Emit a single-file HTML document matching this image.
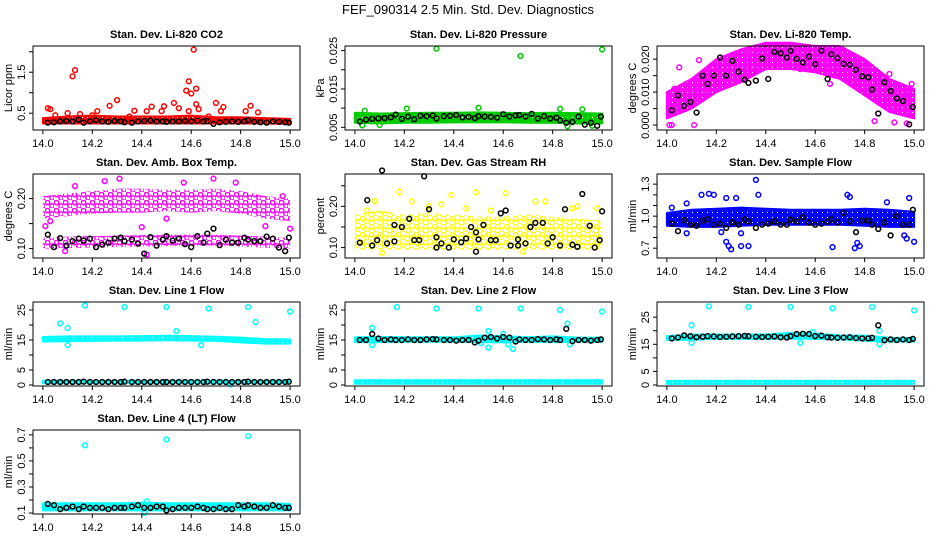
<!DOCTYPE html>
<html><head><meta charset="utf-8"><style>
html,body{margin:0;padding:0;background:#fff;}
svg{display:block;font-family:"Liberation Sans",sans-serif;}
</style></head><body>
<svg id="chart" width="936" height="540" viewBox="0 0 936 540">
<defs id="defs"></defs>
<text x="468" y="14" text-anchor="middle" font-size="13">FEF_090314  2.5 Min. Std. Dev. Diagnostics</text>
</svg>
<script>
// shared x data
const bandTimes = [14.0,14.1,14.2,14.3,14.4,14.5,14.6,14.7,14.8,14.9,15.0];
const blackTimes = [14.02,14.045,14.07,14.095,14.12,14.145,14.165,14.19,14.215,14.24,14.265,14.29,14.315,14.33,14.36,14.385,14.41,14.435,14.46,14.485,14.5,14.525,14.55,14.575,14.6,14.625,14.65,14.665,14.69,14.715,14.74,14.765,14.79,14.815,14.83,14.855,14.88,14.905,14.93,14.955,14.98,14.995];
const xTicks = [14.0,14.2,14.4,14.6,14.8,15.0];

// Panel 1: CO2
const co2BandLo = [0.25,0.25,0.25,0.25,0.25,0.25,0.25,0.25,0.25,0.25,0.24];
const co2BandHi = [0.38,0.42,0.44,0.42,0.42,0.42,0.44,0.40,0.40,0.38,0.36];
const co2PtX = [14.02,14.03,14.05,14.1,14.12,14.13,14.15,14.22,14.27,14.3,14.37,14.42,14.44,14.48,14.49,14.53,14.55,14.58,14.59,14.6,14.61,14.62,14.62,14.63,14.59,14.7,14.72,14.73,14.82,14.84,14.87,14.2,14.35,14.67];
const co2PtY = [0.62,0.6,0.45,0.5,1.4,1.55,0.48,0.55,0.68,0.82,0.56,0.55,0.66,0.55,0.67,0.75,0.62,1.05,1.28,0.98,2.05,1.1,0.72,0.6,0.55,0.75,0.55,0.65,0.55,0.68,0.52,0.45,0.42,0.42];
const co2Black = [0.27,0.28,0.3,0.31,0.3,0.34,0.27,0.3,0.33,0.3,0.29,0.31,0.3,0.28,0.27,0.3,0.31,0.32,0.3,0.3,0.29,0.3,0.3,0.31,0.3,0.32,0.3,0.31,0.24,0.28,0.29,0.3,0.29,0.3,0.33,0.29,0.28,0.27,0.3,0.29,0.28,0.27];

// Panel 2: Pressure
const presBandLo = [0.0062,0.0060,0.0062,0.0062,0.0063,0.0063,0.0063,0.0062,0.0062,0.0060,0.0060];
const presBandHi = [0.0088,0.0086,0.0087,0.0088,0.0088,0.0089,0.0088,0.0087,0.0088,0.0087,0.0086];
const presPtX = [14.33,14.67,15.0,14.5,14.21,14.83,14.92,14.03,14.86,14.04,14.1,14.96];
const presPtY = [0.0255,0.0236,0.0253,0.0101,0.0099,0.0098,0.0097,0.0055,0.0053,0.0093,0.0056,0.0054];
const presBlack = [0.0065,0.007,0.0072,0.0073,0.0074,0.0076,0.0083,0.0072,0.0078,0.0071,0.008,0.0079,0.0081,0.0073,0.0079,0.008,0.0082,0.0076,0.0077,0.0074,0.0079,0.0078,0.0077,0.0075,0.0084,0.0078,0.0081,0.0082,0.0078,0.0085,0.0073,0.0079,0.0073,0.0075,0.0068,0.0062,0.0064,0.0078,0.0057,0.0062,0.0054,0.0078];

// Panel 3: Li-820 Temp
const tempBandLo = [0.002,0.005,0.010,0.013,0.017,0.017,0.016,0.014,0.009,0.004,0.002];
const tempBandHi = [0.010,0.014,0.020,0.023,0.025,0.025,0.024,0.024,0.020,0.014,0.011];
const tempPtX = [14.01,14.02,14.11,14.05,14.13,14.97,14.99,14.96,14.54,14.66,14.84,14.92,14.03,14.9];
const tempPtY = [0,0,0,0.0175,0.0197,0.0005,0.0125,0.0085,0.017,0.0125,0.0012,0.0008,0.011,0.0155];
const tempBlack = [0.0045,0.009,0.0058,0.007,0.0038,0.015,0.0125,0.015,0.0205,0.015,0.0195,0.0162,0.0138,0.0128,0.0135,0.0202,0.014,0.0222,0.0218,0.0205,0.0225,0.0201,0.019,0.0208,0.0185,0.0226,0.014,0.0215,0.0203,0.0186,0.0183,0.0168,0.0148,0.0145,0.0108,0.0035,0.013,0.0103,0.0081,0.0073,0.0002,0.0055];

// Panel 4: Amb Box Temp
const ambBandLo = [0.16,0.165,0.17,0.172,0.172,0.175,0.172,0.175,0.17,0.16,0.155];
const ambBandHi = [0.205,0.21,0.215,0.22,0.22,0.218,0.218,0.22,0.215,0.205,0.2];
const ambBand2Lo = [0.1,0.101,0.102,0.103,0.104,0.105,0.106,0.106,0.104,0.102,0.1];
const ambBand2Hi = [0.122,0.124,0.125,0.126,0.127,0.128,0.128,0.128,0.126,0.124,0.122];
const ambPtX = [14.01,14.25,14.31,14.69,14.57,14.5,14.4,14.42,14.9,15.0,14.09,14.13,14.78,14.03,14.97];
const ambPtY = [0.145,0.235,0.24,0.24,0.232,0.16,0.143,0.088,0.145,0.14,0.095,0.225,0.232,0.155,0.205];
const ambBlack = [0.128,0.103,0.121,0.106,0.115,0.12,0.116,0.12,0.103,0.108,0.112,0.12,0.122,0.115,0.118,0.11,0.09,0.123,0.106,0.118,0.125,0.116,0.12,0.109,0.103,0.125,0.112,0.13,0.14,0.107,0.118,0.112,0.112,0.122,0.118,0.115,0.115,0.124,0.12,0.102,0.095,0.122];

// Panel 5: Gas Stream RH
const rhBandLo = [0.095,0.095,0.095,0.095,0.095,0.095,0.095,0.095,0.095,0.095,0.095];
const rhBandHi = [0.18,0.19,0.18,0.185,0.18,0.175,0.175,0.18,0.175,0.17,0.165];
const rhPtX = [14.39,14.49,14.61,14.18,14.08,14.11,14.23,14.73,14.77,14.9,14.3,14.45,14.55,14.98,14.05,14.88,14.35,14.68];
const rhPtY = [0.228,0.234,0.232,0.235,0.213,0.087,0.212,0.212,0.212,0.2,0.2,0.195,0.19,0.195,0.19,0.195,0.205,0.09];
const rhBlackX = [14.02,14.05,14.07,14.09,14.11,14.13,14.16,14.16,14.19,14.22,14.24,14.26,14.28,14.3,14.33,14.33,14.35,14.38,14.4,14.43,14.45,14.47,14.49,14.49,14.5,14.52,14.55,14.57,14.59,14.61,14.63,14.66,14.66,14.69,14.71,14.73,14.76,14.78,14.8,14.83,14.85,14.88,14.9,14.92,14.95,14.97,14.99,15.0];
const rhBlackY = [0.112,0.215,0.105,0.118,0.287,0.11,0.155,0.115,0.15,0.17,0.118,0.118,0.273,0.193,0.125,0.1,0.11,0.1,0.12,0.113,0.122,0.15,0.137,0.09,0.12,0.155,0.118,0.118,0.183,0.19,0.105,0.12,0.105,0.11,0.15,0.16,0.16,0.11,0.125,0.105,0.193,0.107,0.102,0.23,0.153,0.1,0.118,0.188];

// Panel 6: Sample Flow
const flowBandLo = [0.91,0.9,0.9,0.91,0.92,0.92,0.92,0.92,0.91,0.9,0.9];
const flowBandHi = [1.03,1.06,1.07,1.08,1.07,1.06,1.06,1.06,1.07,1.06,1.04];
const flowPtX = [14.36,14.14,14.17,14.19,14.37,14.28,14.24,14.73,14.74,14.98,14.89,14.24,14.25,14.26,14.3,14.33,14.67,14.76,14.77,14.78,14.97,15.0,14.96,14.08,14.3,14.08,14.02,14.22];
const flowPtY = [1.34,1.2,1.21,1.2,1.2,1.17,1.17,1.2,1.18,1.17,1.13,0.76,0.72,0.69,0.72,0.72,0.71,0.7,0.75,0.72,0.79,0.76,0.82,0.84,0.84,1.12,1.08,0.85];
const flowBlack = [0.93,0.86,0.96,0.92,0.91,0.96,0.97,0.92,0.93,0.89,0.94,0.92,0.97,0.95,0.89,0.92,0.93,0.95,0.92,0.92,0.97,0.95,0.99,0.94,0.92,0.93,0.95,0.97,0.94,1.03,0.95,0.85,0.96,0.96,0.92,0.88,0.94,0.82,1.0,0.92,0.92,1.06];

// Panel 7: Line 1
const l1BandLo = [14.5,14.6,14.7,14.8,14.8,14.9,14.8,14.7,14.2,13.8,13.8];
const l1BandHi = [16.0,16.2,16.2,16.2,16.3,16.4,16.3,16.1,15.8,15.3,15.2];
const l1Band2Lo = [0.6,0.6,0.6,0.6,0.6,0.6,0.6,0.6,0.6,0.6,0.6];
const l1Band2Hi = [1.4,1.4,1.4,1.4,1.4,1.4,1.4,1.4,1.4,1.4,1.4];
const l1PtX = [14.17,14.33,14.5,14.67,14.83,15.0,14.07,14.1,14.86,14.54,14.1,14.64,14.76];
const l1PtY = [26.5,26,26,25.5,26,24.5,20.5,19,21,18,13.3,13.3,0.2];
const l1Black = [1,1,1,1,1,1,1.1,1,1,1,1,1,1,1.1,1,1,1,1,1,1,1,1,1,1,1,1,1,1.1,1,1,1,1,1,1,1.1,1,1,1,1,1,1,1.1];

// Panel 8: Line 2
const l2BandLo = [14.3,14.3,14.4,14.4,14.4,14.3,14.2,14.4,14.3,14.4,14.4];
const l2BandHi = [15.9,16.0,15.9,15.9,15.9,16.5,16.3,15.9,16.2,15.8,15.8];
const l2Band2Lo = [0.4,0.4,0.4,0.4,0.4,0.4,0.4,0.4,0.4,0.4,0.4];
const l2Band2Hi = [1.6,1.6,1.6,1.6,1.6,1.6,1.6,1.6,1.6,1.6,1.6];
const l2PtX = [14.17,14.33,14.5,14.67,14.83,15.0,14.07,14.86,14.54,14.54,14.64,14.6,14.07,14.87,14.51,14.62];
const l2PtY = [26,25.5,25.5,25.5,25,24.5,19,20.5,18,12.5,12,17,13.3,13.5,14,13.5];
const l2Black = [15,15,17,15.5,15,15.2,15,15,15.2,15,15,15.2,15.3,15.2,15,15,14.8,15,15,14.2,14.8,15.8,16,15.5,16,15.8,14.5,15.2,15,15,15.3,15.2,15,15.2,15,18.7,14.6,15,15,14.8,15,15.2];

// Panel 9: Line 3
const l3BandLo = [16.6,16.7,17.0,17.0,17.0,17.1,17.0,16.8,16.3,16.0,16.0];
const l3BandHi = [18.0,18.6,18.6,18.6,18.6,19.2,19.0,18.3,18.2,17.4,17.3];
const l3Band2Lo = [0.4,0.4,0.4,0.4,0.4,0.4,0.4,0.4,0.4,0.4,0.4];
const l3Band2Hi = [1.5,1.5,1.5,1.5,1.5,1.5,1.5,1.5,1.5,1.5,1.5];
const l3PtX = [14.17,14.33,14.5,14.67,14.83,15.0,14.1,14.1,14.54,14.86,14.86,14.59];
const l3PtY = [29,28.8,28.8,28.3,28.8,27.5,22,15.5,15.5,15,20,19.5];
const l3Black = [17.2,17.5,18.3,18,17.6,17.8,18,17.9,17.7,17.8,17.9,18,18.1,18,17.8,17.7,17.8,17.9,17.6,17.5,18,18.8,18.9,18.8,18,18.2,17.6,17.5,17.4,17.5,17.6,17.3,17.2,17.2,17.4,22,16.5,16.8,16.6,16.8,16.6,17];

// Panel 10: Line 4
const l4BandLo = [0.12,0.12,0.12,0.12,0.12,0.12,0.12,0.12,0.12,0.12,0.12];
const l4BandHi = [0.175,0.175,0.175,0.175,0.18,0.175,0.175,0.175,0.175,0.175,0.17];
const l4PtX = [14.17,14.5,14.83,14.42,14.41];
const l4PtY = [0.62,0.665,0.69,0.19,0.1];
const l4Black = [0.17,0.16,0.13,0.14,0.15,0.13,0.15,0.14,0.14,0.14,0.13,0.14,0.14,0.14,0.15,0.16,0.14,0.14,0.15,0.15,0.12,0.13,0.14,0.14,0.14,0.15,0.14,0.13,0.13,0.14,0.13,0.13,0.16,0.15,0.16,0.15,0.14,0.14,0.16,0.15,0.14,0.14];

const NS = 'http://www.w3.org/2000/svg';
const svg = document.getElementById('chart');
const defs = document.getElementById('defs');
function mk(tag, attrs, parent){const e=document.createElementNS(NS,tag);for(const k in attrs)e.setAttribute(k,attrs[k]);(parent||svg).appendChild(e);return e;}

const patMade = {};
function pattern(color, sparse){
  const id = 'pat' + color.replace('#','') + (sparse?'s':'d');
  if(patMade[id]) return id;
  patMade[id] = true;
  if(sparse){
    const p = mk('pattern',{id:id,width:9,height:8,patternUnits:'userSpaceOnUse'},defs);
    mk('circle',{cx:2.5,cy:2.5,r:2.2,fill:'none',stroke:color,'stroke-width':1.5},p);
    mk('circle',{cx:7,cy:6,r:2.2,fill:'none',stroke:color,'stroke-width':1.5},p);
  } else {
    const p = mk('pattern',{id:id,width:5,height:5,patternUnits:'userSpaceOnUse'},defs);
    mk('rect',{x:0,y:0,width:5,height:5,fill:color},p);
    mk('rect',{x:2,y:2,width:1,height:1,fill:'#fff'},p);
  }
  return id;
}

const panels = [
 {key:'co2',title:'Stan. Dev. Li-820 CO2',ylab:'Licor ppm',col:0,row:0,ymin:0.09,ymax:2.14,ticks:[0.5,1.0,1.5,2.0],labels:['0.5','','1.5',''],color:'#ff0000',bands:[[co2BandLo,co2BandHi,false]],px:co2PtX,py:co2PtY,bx:blackTimes,by:co2Black},
 {key:'pressure',title:'Stan. Dev. Li-820 Pressure',ylab:'kPa',col:1,row:0,ymin:0.0043,ymax:0.0262,ticks:[0.005,0.01,0.015,0.02,0.025],labels:['0.005','','0.015','','0.025'],color:'#00cc00',bands:[[presBandLo,presBandHi,false]],px:presPtX,py:presPtY,bx:blackTimes,by:presBlack},
 {key:'temp',title:'Stan. Dev. Li-820 Temp.',ylab:'degrees C',col:2,row:0,ymin:-0.0015,ymax:0.024,ticks:[0,0.005,0.01,0.015,0.02],labels:['0.000','','0.010','','0.020'],color:'#ff00ff',bands:[[tempBandLo,tempBandHi,false]],px:tempPtX,py:tempPtY,bx:blackTimes,by:tempBlack},
 {key:'ambbox',title:'Stan. Dev. Amb. Box Temp.',ylab:'degrees C',col:0,row:1,ymin:0.0812,ymax:0.2492,ticks:[0.1,0.15,0.2],labels:['0.10','','0.20'],color:'#ff00ff',bands:[[ambBandLo,ambBandHi,true],[ambBand2Lo,ambBand2Hi,true]],px:ambPtX,py:ambPtY,bx:blackTimes,by:ambBlack},
 {key:'rh',title:'Stan. Dev. Gas Stream RH',ylab:'percent',col:1,row:1,ymin:0.0747,ymax:0.2786,ticks:[0.1,0.15,0.2,0.25],labels:['0.10','','0.20',''],color:'#ffff00',bands:[[rhBandLo,rhBandHi,true]],px:rhPtX,py:rhPtY,bx:rhBlackX,by:rhBlackY},
 {key:'sampleflow',title:'Stan. Dev. Sample Flow',ylab:'ml/min',col:2,row:1,ymin:0.608,ymax:1.395,ticks:[0.7,0.8,0.9,1.0,1.1,1.2,1.3],labels:['0.7','','','1.0','','','1.3'],color:'#0000ff',bands:[[flowBandLo,flowBandHi,false]],px:flowPtX,py:flowPtY,bx:blackTimes,by:flowBlack},
 {key:'line1',title:'Stan. Dev. Line 1 Flow',ylab:'ml/min',col:0,row:2,ymin:-0.33,ymax:27.67,ticks:[0,5,10,15,20,25],labels:['0','5','','15','','25'],color:'#00ffff',bands:[[l1BandLo,l1BandHi,false],[l1Band2Lo,l1Band2Hi,false]],px:l1PtX,py:l1PtY,bx:blackTimes,by:l1Black},
 {key:'line2',title:'Stan. Dev. Line 2 Flow',ylab:'ml/min',col:1,row:2,ymin:-0.33,ymax:27.67,ticks:[0,5,10,15,20,25],labels:['0','5','','15','','25'],color:'#00ffff',bands:[[l2BandLo,l2BandHi,false],[l2Band2Lo,l2Band2Hi,false]],px:l2PtX,py:l2PtY,bx:blackTimes,by:l2Black},
 {key:'line3',title:'Stan. Dev. Line 3 Flow',ylab:'ml/min',col:2,row:2,ymin:-0.37,ymax:30.6,ticks:[0,5,10,15,20,25],labels:['0','5','','15','','25'],color:'#00ffff',bands:[[l3BandLo,l3BandHi,false],[l3Band2Lo,l3Band2Hi,false]],px:l3PtX,py:l3PtY,bx:blackTimes,by:l3Black},
 {key:'line4',title:'Stan. Dev. Line 4 (LT) Flow',ylab:'ml/min',col:0,row:3,ymin:0.0925,ymax:0.7375,ticks:[0.1,0.2,0.3,0.4,0.5,0.6,0.7],labels:['0.1','','0.3','','0.5','','0.7'],color:'#00ffff',bands:[[l4BandLo,l4BandHi,false]],px:l4PtX,py:l4PtY,bx:blackTimes,by:l4Black}
];

panels.forEach(p=>{
  const L = 33 + p.col*312, W = 267, T = 46 + p.row*128, H = 84;
  const xs = v => L + (v - 13.96)/1.08*W;
  const ys = v => T + H - (v - p.ymin)/(p.ymax - p.ymin)*H;
  const g = mk('g',{});
  
  
  const t = mk('text',{x:L+W/2,y:T-8,'text-anchor':'middle','font-size':'11','font-weight':'bold'},g);
  t.textContent = p.title;
  
  
  const clip = mk('g',{},g);
  p.bands.forEach(b=>{
    let pts=[];
    bandTimes.forEach((tt,i)=>pts.push(xs(tt)+','+ys(b[1][i])));
    for(let i=bandTimes.length-1;i>=0;i--) pts.push(xs(bandTimes[i])+','+ys(b[0][i]));
    const pid = pattern(p.color, b[2]);
    const poly = mk('polygon',{points:pts.join(' '),fill:'url(#'+pid+')',stroke:b[2]?'none':p.color,'stroke-width':'2','stroke-linejoin':'round'},clip);
    
    
  });
  p.px.forEach((v,i)=>{
    const c = mk('circle',{cx:xs(v),cy:ys(p.py[i]),r:2.4,fill:'none',stroke:p.color,'stroke-width':'1.5'},clip);
    
    
  });
  p.bx.forEach((v,i)=>{
    const c = mk('circle',{cx:xs(v),cy:ys(p.by[i]),r:2.4,fill:'none',stroke:'#000','stroke-width':'1.5'},clip);
    
    
  });
  const box = mk('rect',{x:L,y:T,width:W,height:H,fill:'none',stroke:'#000','stroke-width':'1'},g);
  
  
  xTicks.forEach(v=>{
    mk('line',{x1:xs(v),x2:xs(v),y1:T+H,y2:T+H+4,stroke:'#000'},g);
    const lt = mk('text',{x:xs(v),y:T+H+17,'text-anchor':'middle','font-size':'11'},g);
    lt.textContent = v.toFixed(1);
    
    
  });
  p.ticks.forEach((v,i)=>{
    mk('line',{x1:L-4,x2:L,y1:ys(v),y2:ys(v),stroke:'#000'},g);
    if(p.labels[i]){
      const yt = mk('text',{x:0,y:0,'text-anchor':'middle','font-size':'11',transform:'translate('+(L-8)+','+ys(v)+') rotate(-90)'},g);
      yt.textContent = p.labels[i];
      
      
    }
  });
  const yl = mk('text',{x:0,y:0,'text-anchor':'middle','font-size':'11',transform:'translate('+(L-21)+','+(T+H/2)+') rotate(-90)'},g);
  yl.textContent = p.ylab;
  
  
});
</script>
</body></html>
